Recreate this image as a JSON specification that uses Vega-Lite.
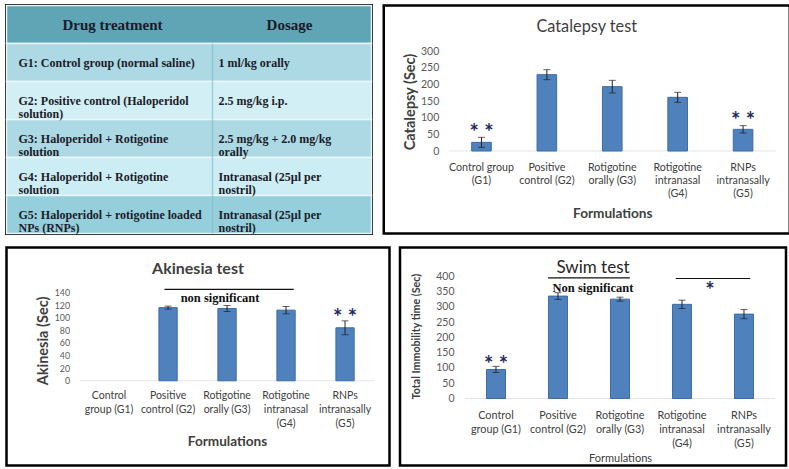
{
  "$schema": "https://vega.github.io/schema/vega-lite/v6.json",
  "padding": {"left": 3.5, "top": 2.5, "right": 0, "bottom": 0},
  "background": "white",
  "config": {"view": {"stroke": "#000000", "strokeWidth": 2.5}, "font": "Lato"},
  "datasets": {
    "table": [
      {"r": "H", "drug": "Drug treatment", "dose": "Dosage"},
      {"r": "G1", "drug": "G1: Control group (normal saline)", "dose": "1 ml/kg orally"},
      {"r": "G2", "drug": "G2: Positive control (Haloperidol|solution)", "dose": "2.5 mg/kg i.p."},
      {"r": "G3", "drug": "G3: Haloperidol + Rotigotine|solution", "dose": "2.5 mg/kg + 2.0 mg/kg|orally"},
      {"r": "G4", "drug": "G4: Haloperidol + Rotigotine|solution", "dose": "Intranasal (25µl per|nostril)"},
      {"r": "G5", "drug": "G5: Haloperidol + rotigotine loaded|NPs (RNPs)", "dose": "Intranasal (25µl per|nostril)"}
    ],
    "cat": [
      {"g": "G1", "v": 26, "e": 15},
      {"g": "G2", "v": 229, "e": 15},
      {"g": "G3", "v": 193, "e": 19},
      {"g": "G4", "v": 161, "e": 15},
      {"g": "G5", "v": 65, "e": 11}
    ],
    "catStars": [
      {"g": "G1", "v": 73.5, "t": "* *"},
      {"g": "G5", "v": 108.5, "t": "* *"}
    ],
    "aki": [
      {"g": "G1", "v": 0, "e": 0},
      {"g": "G2", "v": 116, "e": 2.4},
      {"g": "G3", "v": 114.6, "e": 4.7},
      {"g": "G4", "v": 112, "e": 5.8},
      {"g": "G5", "v": 84, "e": 11}
    ],
    "akiLine": [{"g": "G2", "g2": "G4", "v": 144.8}],
    "akiText": [{"g": "G3", "v": 130.5, "t": "non significant"}],
    "akiStars": [{"g": "G5", "v": 108.3, "t": "* *"}],
    "swim": [
      {"g": "G1", "v": 95, "e": 10},
      {"g": "G2", "v": 335, "e": 11},
      {"g": "G3", "v": 325, "e": 6.5},
      {"g": "G4", "v": 308, "e": 13.6},
      {"g": "G5", "v": 276, "e": 15}
    ],
    "swimLineNS": [{"g": "G2", "g2": "G3", "v": 394.7}],
    "swimLineStar": [{"g": "G4", "g2": "G5", "v": 392.5}],
    "swimText": [{"g": "G2", "v": 362, "t": "Non significant"}],
    "swimStar": [{"g": "G4", "v": 370.5, "t": "*"}],
    "swimStars": [{"g": "G1", "v": 130.8, "t": "* *"}]
  },
  "vconcat": [
    {
      "spacing": 7.25,
      "hconcat": [
        {
          "width": 365,
          "height": 228,
          "view": {"stroke": "#000000", "strokeWidth": 3},
          "data": {"name": "table"},
          "encoding": {
            "y": {"field": "r", "type": "nominal", "scale": {"domain": ["H", "G1", "G2", "G3", "G4", "G5"], "paddingInner": 0, "paddingOuter": 0}, "axis": null}
          },
          "resolve": {"scale": {"x": "independent"}},
          "layer": [
            {
              "mark": {"type": "rect", "stroke": "#eaf7fa", "strokeWidth": 1.5},
              "encoding": {
                "color": {"field": "r", "type": "nominal", "scale": {"domain": ["H", "G1", "G2", "G3", "G4", "G5"], "range": ["#5fa5b6", "#acd9e3", "#d2eff5", "#acd9e3", "#cdedf4", "#95cfdc"]}, "legend": null}
              }
            },
            {
              "transform": [{"filter": "datum.r != 'H'"}],
              "mark": {"type": "tick", "orient": "vertical", "size": 38, "thickness": 1.5, "color": "#86bfcc"},
              "encoding": {
                "x": {"datum": "dose", "type": "nominal", "scale": {"type": "point", "domain": ["drug", "dose"], "range": [6, 206], "padding": 0}, "axis": null}
              }
            },
            {
              "transform": [{"filter": "datum.r != 'H'"}, {"fold": ["drug", "dose"], "as": ["key", "val"]}],
              "mark": {"type": "text", "align": "left", "baseline": "middle", "dx": 6, "font": "Liberation Serif", "fontWeight": "bold", "fontSize": 12, "lineBreak": "|", "lineHeight": 13.5, "color": "#1c1c2a"},
              "encoding": {
                "x": {"field": "key", "type": "nominal", "scale": {"type": "point", "domain": ["drug", "dose"], "range": [6, 206], "padding": 0}, "axis": null},
                "text": {"field": "val"}
              }
            },
            {
              "transform": [{"filter": "datum.r == 'H'"}],
              "mark": {"type": "text", "align": "center", "baseline": "middle", "dx": 100, "font": "Liberation Serif", "fontWeight": "bold", "fontSize": 15, "color": "#1a1a2a"},
              "encoding": {
                "x": {"datum": "drug", "type": "nominal", "scale": {"type": "point", "domain": ["drug", "dose"], "range": [6, 206], "padding": 0}, "axis": null},
                "text": {"field": "drug"}
              }
            },
            {
              "transform": [{"filter": "datum.r == 'H'"}],
              "mark": {"type": "text", "align": "center", "baseline": "middle", "dx": 77, "font": "Liberation Serif", "fontWeight": "bold", "fontSize": 15, "color": "#1a1a2a"},
              "encoding": {
                "x": {"datum": "dose", "type": "nominal", "scale": {"type": "point", "domain": ["drug", "dose"], "range": [6, 206], "padding": 0}, "axis": null},
                "text": {"field": "dose"}
              }
            }
          ]
        },
        {
          "width": 406,
          "height": 228,
          "title": {"text": "Catalepsy test", "font": "Lato", "fontSize": 16.3, "fontWeight": "normal", "color": "#404040", "offset": -30, "anchor": "middle"},
          "data": {"name": "cat"},
          "encoding": {
            "x": {
              "field": "g", "type": "nominal",
              "scale": {"domain": ["G1", "G2", "G3", "G4", "G5"], "paddingInner": 0, "paddingOuter": 0.604, "align": 0.823},
              "axis": {"orient": "bottom", "offset": -82.5, "domain": false, "ticks": false, "grid": false, "labelAngle": 0, "labelOverlap": false,
                "labelExpr": "datum.value == 'G1' ? ['Control group','(G1)'] : datum.value == 'G2' ? ['Positive','control (G2)'] : datum.value == 'G3' ? ['Rotigotine','orally (G3)'] : datum.value == 'G4' ? ['Rotigotine','intranasal','(G4)'] : ['RNPs','intranasally','(G5)']",
                "labelFont": "Lato", "labelFontSize": 10.7, "labelColor": "#404040", "labelLineHeight": 13.4, "labelPadding": 11, "labelBaseline": "top",
                "title": "Formulations", "titleFont": "Lato", "titleFontSize": 13.6, "titleFontWeight": "bold", "titleColor": "#404040", "titleX": 228.5, "titleY": 62.5, "titleAlign": "center", "titleBaseline": "middle", "titleAngle": 0}
            },
            "y": {
              "field": "v", "type": "quantitative",
              "scale": {"domain": [-247.5, 436.5], "nice": false, "zero": false},
              "axis": {"orient": "left", "offset": -65, "values": [0, 50, 100, 150, 200, 250, 300], "domain": false, "ticks": false, "grid": false,
                "labelFont": "Lato", "labelFontSize": 10.5, "labelColor": "#595959", "labelPadding": 10,
                "title": "Catalepsy (Sec)", "titleFont": "Lato", "titleFontSize": 14.5, "titleFontWeight": "bold", "titleColor": "#404040", "titleX": -38, "titleY": 96, "titleAngle": -90, "titleAlign": "center", "titleBaseline": "middle"}
            }
          },
          "layer": [
            {"mark": {"type": "tick", "orient": "horizontal", "size": 65.4, "thickness": 1, "color": "#d9d9d9"}, "encoding": {"y": {"datum": 0}}},
            {"mark": {"type": "bar", "width": {"band": 0.3}, "color": "#4f81bd", "stroke": "#3d6ca6", "strokeWidth": 1}, "encoding": {"y2": {"datum": 0}}},
            {"transform": [{"filter": "datum.e > 0"}], "mark": {"type": "errorbar", "ticks": {"size": 7}, "color": "#222222", "thickness": 1}, "encoding": {"yError": {"field": "e"}}},
            {"data": {"name": "catStars"}, "mark": {"type": "text", "font": "Lato", "fontSize": 22, "fontWeight": "bold", "color": "#1f2a5c", "baseline": "middle", "dy": 6}, "encoding": {"text": {"field": "t"}}}
          ]
        }
      ]
    },
    {
      "spacing": 6.5,
      "hconcat": [
        {
          "width": 383,
          "height": 218,
          "title": {"text": "Akinesia test", "font": "Lato", "fontSize": 16, "fontWeight": "bold", "color": "#404040", "offset": -29, "anchor": "middle"},
          "data": {"name": "aki"},
          "encoding": {
            "x": {
              "field": "g", "type": "nominal",
              "scale": {"domain": ["G1", "G2", "G3", "G4", "G5"], "paddingInner": 0, "paddingOuter": 0.746, "align": 0.83},
              "axis": {"orient": "bottom", "offset": -84.7, "domain": false, "ticks": false, "grid": false, "labelAngle": 0, "labelOverlap": false,
                "labelExpr": "datum.value == 'G1' ? ['Control','group (G1)'] : datum.value == 'G2' ? ['Positive','control (G2)'] : datum.value == 'G3' ? ['Rotigotine','orally (G3)'] : datum.value == 'G4' ? ['Rotigotine','intranasal','(G4)'] : ['RNPs','intranasally','(G5)']",
                "labelFont": "Lato", "labelFontSize": 10.5, "labelColor": "#404040", "labelLineHeight": 13.9, "labelPadding": 10, "labelBaseline": "top",
                "title": "Formulations", "titleFont": "Lato", "titleFontSize": 13.6, "titleFontWeight": "bold", "titleColor": "#404040", "titleX": 220.5, "titleY": 61, "titleAlign": "center", "titleBaseline": "middle", "titleAngle": 0}
            },
            "y": {
              "field": "v", "type": "quantitative",
              "scale": {"domain": [-134.3, 211.3], "nice": false, "zero": false},
              "axis": {"orient": "left", "offset": -73, "values": [0, 20, 40, 60, 80, 100, 120, 140], "domain": false, "ticks": false, "grid": false,
                "labelFont": "Lato", "labelFontSize": 8.8, "labelColor": "#595959", "labelPadding": 10,
                "title": "Akinesia  (Sec)", "titleFont": "Lato", "titleFontSize": 14.5, "titleFontWeight": "bold", "titleColor": "#404040", "titleX": -36, "titleY": 93, "titleAngle": -90, "titleAlign": "center", "titleBaseline": "middle"}
            }
          },
          "layer": [
            {"mark": {"type": "tick", "orient": "horizontal", "size": 59, "thickness": 1, "color": "#d9d9d9"}, "encoding": {"y": {"datum": 0}}},
            {"transform": [{"filter": "datum.v > 0"}], "mark": {"type": "bar", "width": {"band": 0.31}, "color": "#4f81bd", "stroke": "#3d6ca6", "strokeWidth": 1}, "encoding": {"y2": {"datum": 0}}},
            {"transform": [{"filter": "datum.e > 0"}], "mark": {"type": "errorbar", "ticks": {"size": 7}, "color": "#222222", "thickness": 1}, "encoding": {"yError": {"field": "e"}}},
            {"data": {"name": "akiLine"}, "mark": {"type": "rule", "color": "#111111", "strokeWidth": 1.2}, "encoding": {"x": {"field": "g", "type": "nominal", "bandPosition": 0.44}, "x2": {"field": "g2", "bandPosition": 0.63}}},
            {"data": {"name": "akiText"}, "mark": {"type": "text", "font": "Liberation Serif", "fontSize": 12.5, "fontWeight": "bold", "color": "#111111", "baseline": "middle", "dx": -7}, "encoding": {"text": {"field": "t"}}},
            {"data": {"name": "akiStars"}, "mark": {"type": "text", "font": "Lato", "fontSize": 22, "fontWeight": "bold", "color": "#1f2a5c", "baseline": "middle", "dy": 6}, "encoding": {"text": {"field": "t"}}}
          ]
        },
        {
          "width": 386,
          "height": 218,
          "title": {"text": "Swim test", "font": "Lato", "fontSize": 17, "fontWeight": "normal", "color": "#262626", "offset": -29, "anchor": "middle"},
          "data": {"name": "swim"},
          "encoding": {
            "x": {
              "field": "g", "type": "nominal",
              "scale": {"domain": ["G1", "G2", "G3", "G4", "G5"], "paddingInner": 0, "paddingOuter": 0.613, "align": 0.855},
              "axis": {"orient": "bottom", "offset": -67, "domain": false, "ticks": false, "grid": false, "labelAngle": 0, "labelOverlap": false,
                "labelExpr": "datum.value == 'G1' ? ['Control','group (G1)'] : datum.value == 'G2' ? ['Positive','control (G2)'] : datum.value == 'G3' ? ['Rotigotine','orally (G3)'] : datum.value == 'G4' ? ['Rotigotine','intranasal','(G4)'] : ['RNPs','intranasally','(G5)']",
                "labelFont": "Lato", "labelFontSize": 10.8, "labelColor": "#404040", "labelLineHeight": 14.2, "labelPadding": 11, "labelBaseline": "top",
                "title": "Formulations", "titleFont": "Lato", "titleFontSize": 11, "titleFontWeight": "normal", "titleColor": "#404040", "titleX": 220, "titleY": 60, "titleAlign": "center", "titleBaseline": "middle", "titleAngle": 0}
            },
            "y": {
              "field": "v", "type": "quantitative",
              "scale": {"domain": [-219.1, 493.9], "nice": false, "zero": false},
              "axis": {"orient": "left", "offset": -65, "values": [0, 50, 100, 150, 200, 250, 300, 350, 400], "domain": false, "ticks": false, "grid": false,
                "labelFont": "Lato", "labelFontSize": 10.5, "labelColor": "#595959", "labelPadding": 11,
                "title": "Total Immobility time (Sec)", "titleFont": "Lato", "titleFontSize": 10.7, "titleFontWeight": "bold", "titleColor": "#404040", "titleX": -49, "titleY": 88.6, "titleAngle": -90, "titleAlign": "center", "titleBaseline": "middle"}
            }
          },
          "layer": [
            {"mark": {"type": "tick", "orient": "horizontal", "size": 62, "thickness": 1, "color": "#d9d9d9"}, "encoding": {"y": {"datum": 0}}},
            {"mark": {"type": "bar", "width": {"band": 0.306}, "color": "#4f81bd", "stroke": "#3d6ca6", "strokeWidth": 1}, "encoding": {"y2": {"datum": 0}}},
            {"transform": [{"filter": "datum.e > 0"}], "mark": {"type": "errorbar", "ticks": {"size": 7}, "color": "#222222", "thickness": 1}, "encoding": {"yError": {"field": "e"}}},
            {"data": {"name": "swimLineNS"}, "mark": {"type": "rule", "color": "#111111", "strokeWidth": 1.2}, "encoding": {"x": {"field": "g", "type": "nominal", "bandPosition": 0.34}, "x2": {"field": "g2", "bandPosition": 0.66}}},
            {"data": {"name": "swimLineStar"}, "mark": {"type": "rule", "color": "#111111", "strokeWidth": 1.2}, "encoding": {"x": {"field": "g", "type": "nominal", "bandPosition": 0.4}, "x2": {"field": "g2", "bandPosition": 0.6}}},
            {"data": {"name": "swimText"}, "mark": {"type": "text", "font": "Liberation Serif", "fontSize": 12.5, "fontWeight": "bold", "color": "#111111", "baseline": "middle", "dx": 4}, "encoding": {"x": {"field": "g", "type": "nominal", "bandPosition": 1}, "text": {"field": "t"}}},
            {"data": {"name": "swimStar"}, "mark": {"type": "text", "font": "Lato", "fontSize": 22, "fontWeight": "bold", "color": "#1f2a5c", "baseline": "middle", "dx": -3, "dy": 6}, "encoding": {"x": {"field": "g", "type": "nominal", "bandPosition": 1}, "text": {"field": "t"}}},
            {"data": {"name": "swimStars"}, "mark": {"type": "text", "font": "Lato", "fontSize": 22, "fontWeight": "bold", "color": "#1f2a5c", "baseline": "middle", "dy": 6}, "encoding": {"text": {"field": "t"}}}
          ]
        }
      ]
    }
  ],
  "spacing": 9
}
